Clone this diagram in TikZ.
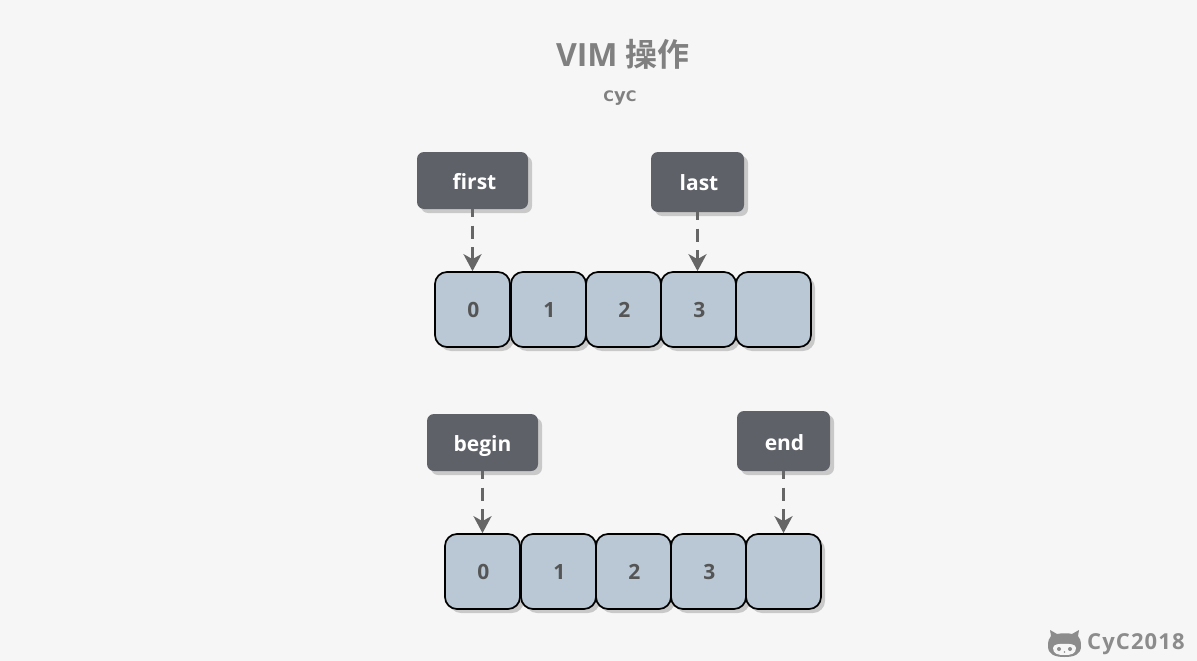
\documentclass[tikz,border=0pt]{standalone}
\usepackage{fontspec}
\setmainfont{Open Sans}
\newfontfamily\cjkbold[BoldFont={Noto Sans CJK SC Bold}]{Noto Sans CJK SC}
\newfontfamily\subfont{DejaVu Sans}
\usetikzlibrary{arrows.meta,shadows}
\definecolor{bgc}{HTML}{F6F6F6}
\definecolor{boxc}{HTML}{5F6169}
\definecolor{cellc}{HTML}{B9C8D4}
\definecolor{inkc}{HTML}{555555}
\definecolor{linec}{HTML}{666666}
\definecolor{titlec}{HTML}{808080}
\definecolor{shadowc}{HTML}{C9C9C9}
\definecolor{markc}{HTML}{8C8C8C}
\tikzset{
  x=1pt,y=-1pt,
  softshadow/.style={general shadow={fill=shadowc,shadow xshift=4pt,shadow yshift=-4pt}},
  labelbox/.style={softshadow,draw=none,fill=boxc,rounded corners=7pt,text=white,font=\bfseries\fontsize{21}{24}\selectfont,inner sep=0pt,minimum height=57pt,text height=17pt,text depth=0pt},
  cellbox/.style={softshadow,draw=black,line width=1.7pt,fill=cellc,rounded corners=12pt,text=inkc,font=\bfseries\fontsize{21}{24}\selectfont,inner sep=0pt,minimum width=75pt,minimum height=75pt,text height=15pt,text depth=0pt},
  pointer/.style={draw=linec,line width=2.6pt,dash pattern=on 13pt off 8.5pt,dash phase=5pt,-{Stealth[length=17pt,width=18pt,inset=5pt,fill=linec]}},
}
\begin{document}
\begin{tikzpicture}
\useasboundingbox (0,0) rectangle (1197,661);
\fill[bgc] (0,0) rectangle (1197,661);
\node[text=titlec,font=\bfseries\fontsize{32}{36}\selectfont] (title) at (623,54) {VIM {\cjkbold\bfseries 操作}};
\node[text=titlec,font=\subfont\bfseries\fontsize{18}{20}\selectfont,inner sep=0pt,anchor=base] (sub) at (620,101) {{\fontsize{14.5}{20}\selectfont C}y{\fontsize{14.5}{20}\selectfont C}};

\foreach \n/\x/\t in {a0/472.5/0,a1/548.5/1,a2/623.5/2,a3/698.5/3,a4/773.5/{}}
  \node[cellbox] (\n) at (\x,309.5) {\hspace*{1.6pt}\t};
\foreach \n/\x/\t in {b0/482.5/0,b1/558.5/1,b2/633.5/2,b3/708.5/3,b4/783.5/{}}
  \node[cellbox] (\n) at (\x,571.5) {\hspace*{1.6pt}\t};

\node[labelbox,minimum width=111pt] (first) at (472.5,180.5) {\hspace*{4pt}first};
\node[labelbox,minimum width=93pt,minimum height=60pt] (last) at (697.5,182) {\hspace*{3pt}last};
\node[labelbox,minimum width=111pt] (begin) at (482.5,442.5) {begin};
\node[labelbox,minimum width=93pt,minimum height=60pt,text height=19pt] (end) at (783.5,441) {\hspace*{2pt}end};

\draw[pointer] (first.south) -- (first.south |- a0.north);
\draw[pointer] (last.south) -- (last.south |- a3.north);
\draw[pointer] (begin.south) -- (begin.south |- b0.north);
\draw[pointer] (end.south) -- (end.south |- b4.north);

% watermark
\fill[markc] (1048,646) .. controls (1048,641) and (1049,638) .. (1051,636) -- (1050,630) -- (1057,634)
  .. controls (1061,633) and (1069,633) .. (1072,634) -- (1079,630) -- (1078,636)
  .. controls (1080,638) and (1081,641) .. (1081,646)
  .. controls (1081,654) and (1075,657) .. (1064.5,657)
  .. controls (1054,657) and (1048,654) .. (1048,646) -- cycle;
\fill[bgc] (1053,648) .. controls (1053,644) and (1060,643.5) .. (1064.5,644)
  .. controls (1069,643.5) and (1076,644) .. (1076,648)
  .. controls (1076,654) and (1071,655) .. (1064.5,655)
  .. controls (1058,655) and (1053,654) .. (1053,648) -- cycle;
\fill[markc] (1059,649) circle (2);
\fill[markc] (1070,649) circle (2);
\fill[markc] (1064.5,652) circle (0.8);
\node[text=markc,anchor=west,inner sep=0pt,font=\bfseries\fontsize{22}{24}\selectfont\addfontfeature{LetterSpace=5}] (mark) at (1087,644) {CyC2018};
\end{tikzpicture}
\end{document}
